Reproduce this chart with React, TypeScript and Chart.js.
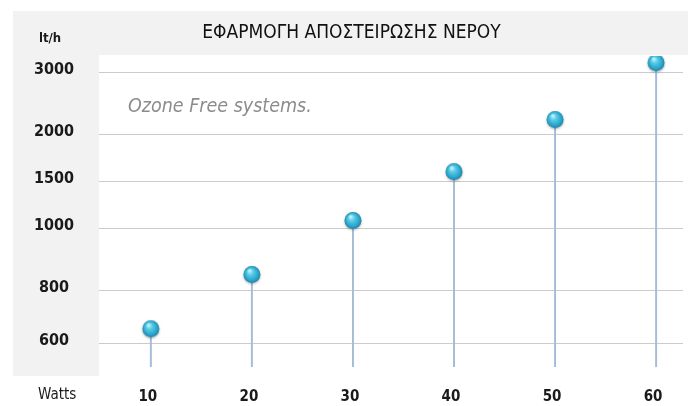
import React, { useEffect, useRef } from "react";
import { Chart, registerables } from "chart.js";

Chart.register(...registerables);

// ---- data ----
const chartTitle = "ΕΦΑΡΜΟΓΗ ΑΠΟΣΤΕΙΡΩΣΗΣ ΝΕΡΟΥ";
const noteText = "Ozone Free systems.";
const yUnitLabel = "lt/h";
const xUnitLabel = "Watts";
const watts = [10, 20, 30, 40, 50, 60];
const flowLtH = [655, 850, 1080, 1600, 2240, 3150];
const xTickValues = [10, 20, 30, 40, 50, 60];
// the infographic's y axis is not linear: each tick value sits on its own level
const yTickValues = [600, 800, 1000, 1500, 2000, 3000];
const yTickLevels = [0, 0.985, 2.127, 2.993, 3.849, 5.0];

const FONT = '"Liberation Sans Narrow", "DejaVu Sans Condensed", "Roboto", sans-serif';

function toLevel(v: number): number {
  const n = yTickValues.length;
  let i = 0;
  while (i < n - 2 && v > yTickValues[i + 1]) i++;
  const v0 = yTickValues[i], v1 = yTickValues[i + 1];
  const l0 = yTickLevels[i], l1 = yTickLevels[i + 1];
  return l0 + ((v - v0) / (v1 - v0)) * (l1 - l0);
}

function levelLabel(level: number): string {
  const idx = yTickLevels.findIndex((l) => Math.abs(l - level) < 1e-6);
  return idx >= 0 ? String(yTickValues[idx]) : "";
}

function makeSphere(): HTMLCanvasElement {
  const c = document.createElement("canvas");
  c.width = 22;
  c.height = 22;
  const g = c.getContext("2d")!;
  const cx = 11, cy = 10.5, r = 8.5;
  g.save();
  g.shadowColor = "rgba(0,0,0,0.28)";
  g.shadowBlur = 2.5;
  g.shadowOffsetY = 1.2;
  const grad = g.createRadialGradient(cx - 2.5, cy - 4, 0.5, cx, cy, r);
  grad.addColorStop(0, "#c6f5fd");
  grad.addColorStop(0.35, "#55cbe6");
  grad.addColorStop(0.8, "#2aa2c8");
  grad.addColorStop(1, "#1c84a7");
  g.fillStyle = grad;
  g.beginPath();
  g.arc(cx, cy, r, 0, Math.PI * 2);
  g.fill();
  g.restore();
  return c;
}

const decorPlugin = {
  id: "decor",
  beforeDraw(chart: any) {
    const { ctx, chartArea } = chart;
    ctx.save();
    ctx.fillStyle = "#f2f2f2";
    ctx.fillRect(13, 11, 675, chartArea.top - 12);
    ctx.fillRect(13, 11, chartArea.left - 13, chartArea.bottom + 9 - 11);
    ctx.restore();
  },
  beforeDatasetsDraw(chart: any) {
    const { ctx, chartArea } = chart;
    ctx.save();
    ctx.fillStyle = "#8c8c8c";
    ctx.font = `italic 300 19.5px ${FONT}`;
    ctx.textBaseline = "alphabetic";
    ctx.textAlign = "left";
    ctx.fillText(noteText, chartArea.left + 29, 112);
    ctx.restore();
  },
  afterDraw(chart: any) {
    const { ctx } = chart;
    ctx.save();
    ctx.fillStyle = "#1a1a1a";
    ctx.textAlign = "left";
    ctx.textBaseline = "alphabetic";
    ctx.font = `bold 13px ${FONT}`;
    ctx.fillText(yUnitLabel, 39, 42);
    ctx.font = `15px ${FONT}`;
    ctx.fillText(xUnitLabel, 38, 399);
    ctx.restore();
  },
};

export default function App() {
  const ref = useRef<HTMLCanvasElement>(null);
  useEffect(() => {
    const sphere = makeSphere();
    const levels = flowLtH.map(toLevel);
    const yMin = -0.424;
    const yMax = 5.304;
    const chart = new Chart(ref.current!, {
      type: "bar",
      data: {
        datasets: [
          {
            type: "line",
            data: watts.map((w, i) => ({ x: w, y: levels[i] })),
            showLine: false,
            pointStyle: sphere as any,
            pointRadius: 9,
            order: 0,
          } as any,
          {
            type: "bar",
            data: watts.map((w, i) => ({ x: w, y: levels[i] })),
            base: yMin,
            backgroundColor: "#a4bcd8",
            barThickness: 1.3,
            order: 1,
          } as any,
        ],
      },
      options: {
        animation: false,
        responsive: false,
        events: [],
        layout: { padding: { left: 18, right: 8, top: 0, bottom: 0 } },
        plugins: {
          legend: { display: false },
          tooltip: { enabled: false },
          title: {
            display: true,
            text: chartTitle,
            color: "#111111",
            font: { family: FONT, size: 19, weight: "normal", lineHeight: 1.2 },
            padding: { top: 21.6, bottom: 11.6 },
          },
        },
        scales: {
          x: {
            type: "linear",
            offset: false,
            min: 4.87,
            max: 62.66,
            afterBuildTicks(scale: any) {
              scale.ticks = xTickValues.map((v) => ({ value: v }));
            },
            afterFit(scale: any) {
              scale.height = 39;
            },
            grid: { display: false, drawTicks: false, offset: false },
            border: { display: false },
            ticks: {
              padding: 21,
              labelOffset: -3,
              color: "#1a1a1a",
              font: { family: FONT, size: 15, weight: "bold" },
              callback: (v: any) => String(v),
            },
          },
          y: {
            type: "linear",
            min: yMin,
            max: yMax,
            afterBuildTicks(scale: any) {
              scale.ticks = yTickLevels.map((v) => ({ value: v }));
            },
            afterFit(scale: any) {
              scale.width = 81;
            },
            grid: { color: "#cbcbcb", lineWidth: 1, drawTicks: false },
            border: { display: false },
            ticks: {
              padding: 25,
              crossAlign: "center",
              labelOffset: -3,
              color: "#1a1a1a",
              font: { family: FONT, size: 16, weight: "bold" },
              callback: (v: any) => levelLabel(Number(v)),
            },
          },
        },
      },
      plugins: [decorPlugin],
    } as any);
    return () => chart.destroy();
  }, []);
  return (
    <div style={{ position: "absolute", left: 0, top: 0, width: 693, height: 406, background: "#ffffff" }}>
      <canvas ref={ref} width={693} height={406} />
    </div>
  );
}
